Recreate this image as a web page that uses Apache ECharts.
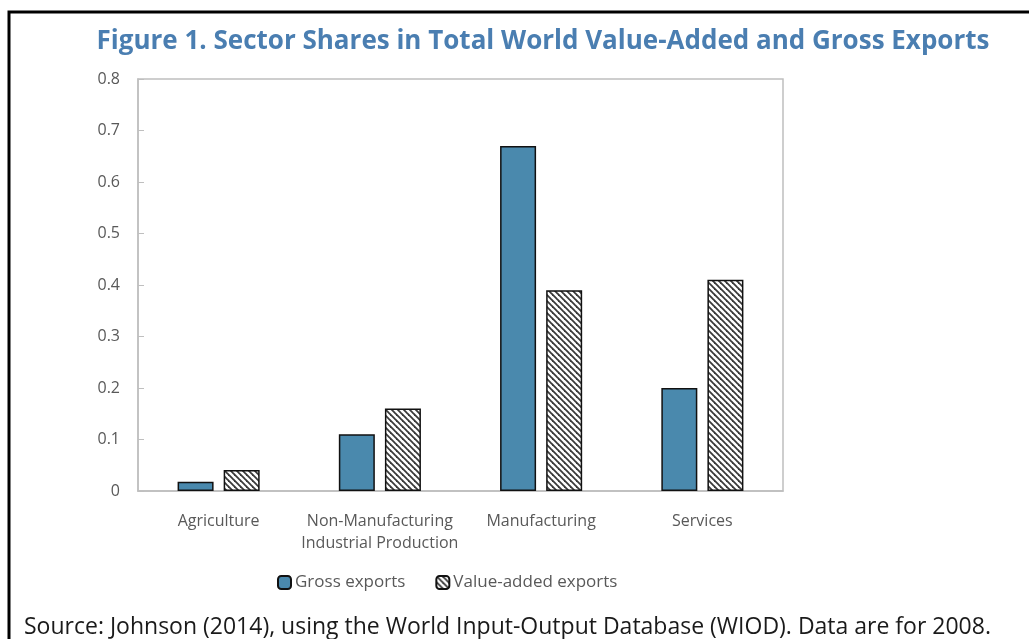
<!DOCTYPE html>
<html>
<head>
<meta charset="utf-8">
<script src="https://cdn.jsdelivr.net/npm/echarts@6/dist/echarts.min.js"></script>
<style>
  html, body { margin: 0; padding: 0; background: #fff; }
  #main { width: 1029px; height: 639px; }
</style>
</head>
<body>
<div id="main"></div>
<script>
const categories = ['Agriculture', 'Non-Manufacturing\nIndustrial Production', 'Manufacturing', 'Services'];
const grossExports = [0.018, 0.11, 0.67, 0.20];
const valueAddedExports = [0.041, 0.16, 0.39, 0.41];
const yTicks = [0, 0.1, 0.2, 0.3, 0.4, 0.5, 0.6, 0.7, 0.8];

// hatch pattern for value-added bars
const makeHatch = () => {
  const c = document.createElement('canvas');
  const s = 6;
  c.width = s;
  c.height = s;
  const ctx = c.getContext('2d');
  ctx.fillStyle = '#ffffff';
  ctx.fillRect(0, 0, s, s);
  ctx.strokeStyle = '#3a3a3a';
  ctx.lineWidth = 1.8;
  [-s, 0, s].forEach((o) => {
    ctx.beginPath();
    ctx.moveTo(o - 1, -1);
    ctx.lineTo(o + s + 1, s + 1);
    ctx.stroke();
  });
  return c;
};

const chart = echarts.init(document.getElementById('main'));
const font = '"Open Sans", "Noto Sans", sans-serif';

const option = {
  animation: false,
  title: {
    text: 'Figure 1. Sector Shares in Total World Value-Added and Gross Exports',
    left: 538,
    top: 24,
    textAlign: 'center',
    textStyle: {
      color: '#4A7EB1',
      fontFamily: '"Open Sans", sans-serif',
      fontWeight: 'bold',
      fontSize: 26,
    },
  },
  graphic: [
    {
      type: 'rect',
      shape: { x: 9, y: 12, width: 1300, height: 800 },
      style: { fill: 'none', stroke: '#000', lineWidth: 3 },
      silent: true,
    },
    {
      type: 'text',
      left: 24,
      top: 616,
      style: {
        text: 'Source: Johnson (2014), using the World Input-Output Database (WIOD). Data are for 2008.',
        fill: '#1a1a1a',
        font: '23px ' + font,
      },
    },
  ],
  legend: {
    left: 272,
    top: 569,
    itemWidth: 13,
    itemHeight: 13,
    itemGap: 30,
    selectedMode: false,
    textStyle: { color: '#595959', fontSize: 17, fontFamily: font, padding: [0, 0, 0, -1] },
    data: ['Gross exports', 'Value-added exports'],
  },
  grid: {
    left: 138,
    right: 246,
    top: 79,
    bottom: 148,
    show: true,
    borderColor: '#bfbfbf',
    borderWidth: 1.5,
  },
  xAxis: {
    type: 'category',
    data: categories,
    axisLine: { lineStyle: { color: '#bfbfbf', width: 1.5 } },
    axisTick: { inside: true, length: 6, lineStyle: { color: '#bfbfbf' } },
    axisLabel: {
      interval: 0,
      color: '#595959',
      fontSize: 16,
      fontFamily: font,
      margin: 19,
      lineHeight: 22,
    },
  },
  yAxis: {
    type: 'value',
    min: 0,
    max: 0.8,
    interval: 0.1,
    splitLine: { show: false },
    axisLine: { show: true, lineStyle: { color: '#bfbfbf', width: 1.5 } },
    axisTick: { show: true, inside: true, length: 6, lineStyle: { color: '#bfbfbf' } },
    axisLabel: {
      color: '#595959',
      fontSize: 16,
      fontFamily: font,
      margin: 18,
      formatter: (v) => {
        const t = yTicks.find((x) => Math.abs(x - v) < 1e-9);
        return t === 0 ? '0' : String(t);
      },
    },
  },
  series: [
    {
      name: 'Gross exports',
      type: 'bar',
      data: grossExports,
      barWidth: 36,
      barGap: '28%',
      itemStyle: { color: '#4A89AD', borderColor: '#111', borderWidth: 1.5 },
    },
    {
      name: 'Value-added exports',
      type: 'bar',
      data: valueAddedExports,
      barWidth: 36,
      itemStyle: {
        color: { image: makeHatch(), repeat: 'repeat' },
        borderColor: '#111',
        borderWidth: 1.5,
      },
    },
  ],
};

chart.setOption(option);
</script>
</body>
</html>
